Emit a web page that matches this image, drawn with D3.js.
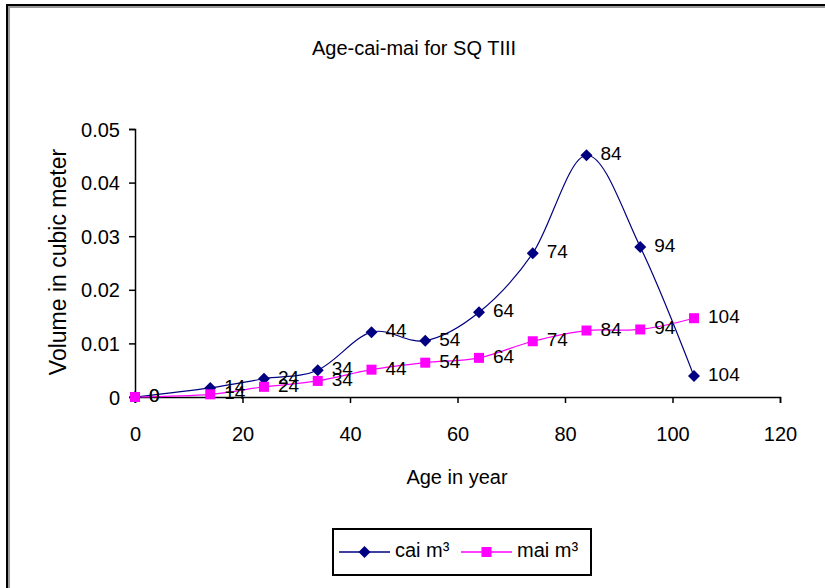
<!DOCTYPE html>
<html>
<head>
<meta charset="utf-8">
<script src="https://cdn.jsdelivr.net/npm/d3@7"></script>
<style>
  html, body { margin: 0; padding: 0; background: #fff; }
  svg { display: block; }
  text { font-family: "Liberation Sans", Arial, sans-serif; fill: #000; }
</style>
</head>
<body>
<svg id="chart" width="825" height="588"></svg>
<script>
// Stand ages (years)
const ages = [0, 14, 24, 34, 44, 54, 64, 74, 84, 94, 104];
// Current annual increment, m³
const caiValues = [0, 0.0017, 0.0034, 0.005, 0.0121, 0.0105, 0.0158, 0.0268, 0.0451, 0.028, 0.0039];
// Mean annual increment, m³
const maiValues = [0, 0.0005, 0.0019, 0.003, 0.0051, 0.0064, 0.0073, 0.0104, 0.0124, 0.0126, 0.0147];
const xTicks = [0, 20, 40, 60, 80, 100, 120];
const yTicks = [0, 0.01, 0.02, 0.03, 0.04, 0.05];
const seriesNames = ["cai m³", "mai m³"];

const svg = d3.select("#chart");
const FONT = 20;

// outer chart frame with a soft shadow, running off the right and bottom edges
svg.append("rect").attr("x", 9).attr("y", 7).attr("width", 900).attr("height", 700)
  .attr("fill", "none").attr("stroke", "#999").attr("stroke-width", 2);
svg.append("rect").attr("x", 7).attr("y", 5).attr("width", 900).attr("height", 700)
  .attr("fill", "none").attr("stroke", "#000").attr("stroke-width", 2);

const x = d3.scaleLinear().domain([0, 120]).range([135, 780]);
const y = d3.scaleLinear().domain([0, 0.05]).range([397, 129]);

// title
svg.append("text").attr("x", 414).attr("y", 50).attr("text-anchor", "middle")
  .attr("dominant-baseline", "middle").style("font-size", FONT + "px")
  .text("Age-cai-mai for SQ TIII");

// axes
const xAxis = d3.axisBottom(x).tickValues(xTicks).tickSize(6).tickPadding(24)
  .tickFormat(d3.format("d"));
const gx = svg.append("g").attr("transform", `translate(0,${y(0)})`).call(xAxis);
const yAxis = d3.axisLeft(y).tickValues(yTicks).tickSize(6).tickPadding(9)
  .tickFormat(d => d === 0 ? "0" : d3.format(".2f")(d));
const gy = svg.append("g").attr("transform", `translate(${x(0)},0)`).call(yAxis);
[gx, gy].forEach(g => {
  g.select(".domain").attr("stroke", "#000").attr("stroke-width", 1.5);
  g.selectAll(".tick line").attr("stroke", "#000").attr("stroke-width", 1.5);
  g.selectAll(".tick text").style("font-size", FONT + "px")
    .style("font-family", '"Liberation Sans", Arial, sans-serif').attr("fill", "#000");
});
gy.selectAll(".tick text").attr("dy", "0.35em");

// axis titles
svg.append("text").attr("x", 457).attr("y", 479).attr("text-anchor", "middle")
  .attr("dominant-baseline", "middle").style("font-size", FONT + "px").text("Age in year");
svg.append("text").attr("transform", `translate(60,262) rotate(-90)`)
  .attr("text-anchor", "middle").attr("dominant-baseline", "middle")
  .style("font-size", "23px").text("Volume in cubic meter");

const series = [
  { name: seriesNames[0], values: caiValues, color: "#000080", marker: "diamond" },
  { name: seriesNames[1], values: maiValues, color: "#FF00FF", marker: "square" }
];

const line = d3.line().curve(d3.curveCatmullRom.alpha(0))
  .x(d => x(d[0])).y(d => y(d[1]));

function drawMarker(g, type, cx, cy, color) {
  if (type === "diamond") {
    g.append("path").attr("d", `M${cx},${cy - 6}L${cx + 6},${cy}L${cx},${cy + 6}L${cx - 6},${cy}Z`)
      .attr("fill", color);
  } else {
    g.append("rect").attr("x", cx - 5).attr("y", cy - 5).attr("width", 10).attr("height", 10)
      .attr("fill", color);
  }
}

series.forEach(s => {
  const pts = ages.map((a, i) => [a, s.values[i]]);
  svg.append("path").datum(pts).attr("d", line).attr("fill", "none")
    .attr("stroke", s.color).attr("stroke-width", 1.2);
});
series.forEach(s => {
  const g = svg.append("g");
  ages.forEach((a, i) => drawMarker(g, s.marker, x(a), y(s.values[i]), s.color));
});
// data labels showing each point's age
series.forEach(s => {
  svg.append("g").selectAll("text").data(ages).join("text")
    .attr("x", (a) => x(a) + 14).attr("y", (a, i) => y(s.values[i]))
    .attr("dominant-baseline", "middle").style("font-size", "19px")
    .text(a => a);
});

// legend
const lg = svg.append("g");
lg.append("rect").attr("x", 333).attr("y", 529).attr("width", 258).attr("height", 46)
  .attr("fill", "#fff").attr("stroke", "#000").attr("stroke-width", 2);
const legendY = 552;
const legendItems = [
  { s: series[0], x0: 339, x1: 390, tx: 395 },
  { s: series[1], x0: 461, x1: 512, tx: 517 }
];
legendItems.forEach(it => {
  lg.append("line").attr("x1", it.x0).attr("x2", it.x1).attr("y1", legendY).attr("y2", legendY)
    .attr("stroke", it.s.color).attr("stroke-width", 1.5);
  drawMarker(lg, it.s.marker, (it.x0 + it.x1) / 2, legendY, it.s.color);
  lg.append("text").attr("x", it.tx).attr("y", legendY).attr("dominant-baseline", "middle")
    .style("font-size", FONT + "px").text(it.s.name);
});
</script>
</body>
</html>
